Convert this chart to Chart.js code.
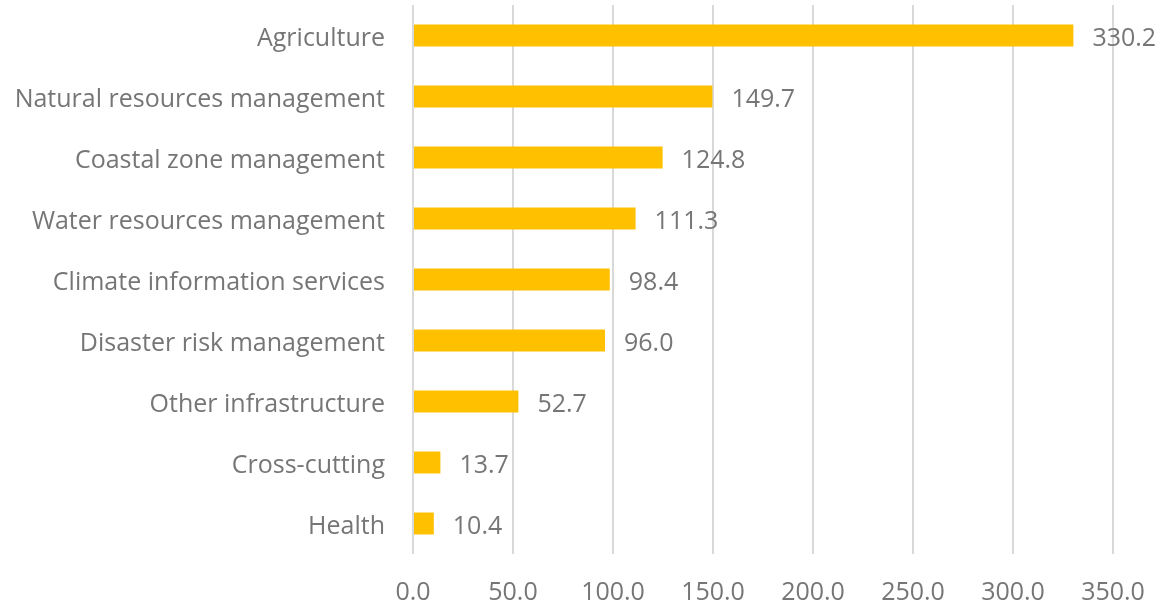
<!DOCTYPE html>
<html>
<head>
<meta charset="utf-8">
<script src="https://cdn.jsdelivr.net/npm/chart.js@4/dist/chart.umd.min.js"></script>
<style>
html,body{margin:0;padding:0;background:#fff;}
#wrap{width:1160px;height:608px;}
</style>
</head>
<body>
<div id="wrap"><canvas id="c" width="1160" height="608"></canvas></div>
<script>
const categories = ["Agriculture","Natural resources management","Coastal zone management","Water resources management","Climate information services","Disaster risk management","Other infrastructure","Cross-cutting","Health"];
const values = [330.2,149.7,124.8,111.3,98.4,96.0,52.7,13.7,10.4];
const tickMin = 0, tickMax = 350, tickStep = 50;

const FONT = "'Open Sans', sans-serif";
const TEXT = "#767676";

const valueLabels = {
  id: 'valueLabels',
  afterDatasetsDraw(chart) {
    const ctx = chart.ctx;
    const meta = chart.getDatasetMeta(0);
    ctx.save();
    ctx.font = "25px " + FONT;
    ctx.fillStyle = TEXT;
    ctx.textAlign = 'left';
    ctx.textBaseline = 'middle';
    meta.data.forEach((bar, i) => {
      ctx.fillText(values[i].toFixed(1), bar.x + 19, bar.y + 3);
    });
    ctx.restore();
  }
};

new Chart(document.getElementById('c'), {
  type: 'bar',
  data: {
    labels: categories,
    datasets: [{
      data: values,
      backgroundColor: '#FFC000',
      borderWidth: 0,
      barPercentage: 0.72,
      categoryPercentage: 0.5
    }]
  },
  options: {
    indexAxis: 'y',
    responsive: false,
    animation: false,
    layout: { padding: { top: 5, right: 47, left: 0, bottom: 0 } },
    plugins: { legend: { display: false }, tooltip: { enabled: false } },
    scales: {
      x: {
        min: tickMin, max: tickMax,
        ticks: {
          stepSize: tickStep,
          color: TEXT,
          font: { family: FONT, size: 25 },
          padding: 24,
          callback: v => Number(v).toFixed(1)
        },
        grid: { color: '#d9d9d9', lineWidth: 2, drawTicks: false },
        border: { display: false },
        afterFit(s) { s.height = 54; s.paddingLeft = 0; s.paddingRight = 0; }
      },
      y: {
        ticks: {
          color: TEXT,
          font: { family: FONT, size: 25 },
          padding: 28,
          labelOffset: 3
        },
        grid: { display: false, drawTicks: false },
        border: { display: false },
        afterFit(s) { s.width = 413; s.paddingTop = 0; s.paddingBottom = 0; }
      }
    }
  },
  plugins: [valueLabels]
});
</script>
</body>
</html>
